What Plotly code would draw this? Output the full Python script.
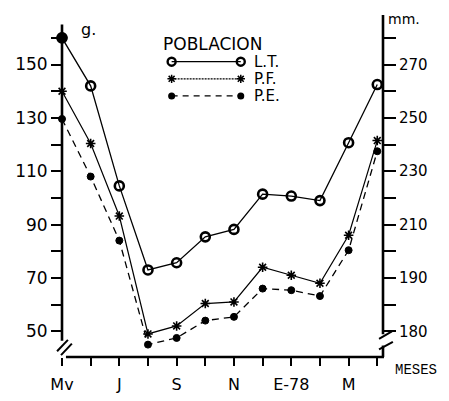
import plotly.graph_objects as go

# ---- data ----
months = ["May", "Jun", "Jul", "Aug", "Sep", "Oct", "Nov", "Dec", "Jan", "Feb", "Mar", "Apr"]
month_labels = ["Mv", "", "J", "", "S", "", "N", "", "E-78", "", "M", ""]
lt = [160, 142, 104.5, 73, 75.7, 85.4, 88.2, 101.4, 100.7, 99, 120.7, 142.5]
pf = [140, 120.4, 93.2, 49, 52, 60.4, 61, 74, 71, 68, 86, 121.5]
pe = [129.6, 108, 84, 45, 47.5, 54, 55.4, 66, 65.4, 63.2, 80.4, 117.5]
left_ticks = [50, 60, 70, 80, 90, 100, 110, 120, 130, 140, 150, 160]
left_labels = ["50", "", "70", "", "90", "", "110", "", "130", "", "150", ""]
right_labels = ["180", "", "190", "", "210", "", "230", "", "250", "", "270", ""]

WIN_W, WIN_H = 449, 401
OFF = 8  # default page body margin
W, H = WIN_W - OFF, WIN_H - OFF
L, R, T, B = 58, 383, 15, 374   # plot box in window pixels
FONT = "DejaVu Sans"

def X(px):
    return (px - L) / (R - L)

def Y(py):
    return (B - py) / (B - T)

x = list(range(len(months)))

fig = go.Figure()

fig.add_trace(go.Scatter(
    x=x, y=lt, mode="lines+markers",
    line=dict(color="black", width=1.3),
    marker=dict(symbol="circle-open", size=9, opacity=1, color="#000000",
                line=dict(color="#000000", width=2.6)),
    cliponaxis=False, showlegend=False))
fig.add_trace(go.Scatter(
    x=x[:1], y=lt[:1], mode="markers",
    marker=dict(symbol="circle", size=11, opacity=1, color="#000000"),
    cliponaxis=False, showlegend=False))
fig.add_trace(go.Scatter(
    x=x, y=pf, mode="lines+markers",
    line=dict(color="black", width=1.2),
    marker=dict(symbol="asterisk-open", size=8, line=dict(color="black", width=1.6)),
    cliponaxis=False, showlegend=False))
fig.add_trace(go.Scatter(
    x=x, y=pe, mode="lines+markers",
    line=dict(color="black", width=1.3, dash="7px,5px"),
    marker=dict(symbol="circle", size=7, color="black", line=dict(color="black", width=1)),
    cliponaxis=False, showlegend=False))

# ---- legend graphic (window-pixel overlay axes) ----
leg_rows = [64, 82, 100]
leg_x = [169, 239]
styles = [
    dict(line=dict(color="black", width=1.3),
         marker=dict(symbol="circle-open", size=8, color="black", line=dict(color="black", width=2.4))),
    dict(line=dict(color="black", width=1.2, dash="2px,1px"),
         marker=dict(symbol="asterisk-open", size=7, line=dict(color="black", width=1.5))),
    dict(line=dict(color="black", width=1.3, dash="6px,5px"),
         marker=dict(symbol="circle", size=7, color="black")),
]
leg_names = ["L.T.", "P.F.", "P.E."]
for row, st, name in zip(leg_rows, styles, leg_names):
    fig.add_trace(go.Scatter(x=leg_x, y=[row, row], mode="lines+markers",
                             xaxis="x3", yaxis="y3", showlegend=False, **st))
    fig.add_annotation(xref="x3", yref="y3", x=250, y=row, text=name, showarrow=False,
                       xanchor="left", yanchor="middle",
                       font=dict(family=FONT, size=15, color="black"))
fig.add_annotation(xref="x3", yref="y3", x=210, y=45.5, text="POBLACION", showarrow=False,
                   xanchor="center", yanchor="middle",
                   font=dict(family=FONT, size=17, color="black"))

# ---- unit texts ----
fig.add_annotation(xref="paper", yref="paper", x=X(75), y=Y(30), text="g.", showarrow=False,
                   xanchor="left", yanchor="middle", font=dict(family=FONT, size=16, color="black"))
fig.add_annotation(xref="paper", yref="paper", x=X(386), y=Y(19), text="mm.", showarrow=False,
                   xanchor="left", yanchor="middle", font=dict(family=FONT, size=14, color="black"))
fig.add_annotation(xref="paper", yref="paper", x=X(440), y=Y(388), text="MESES", showarrow=False,
                   xanchor="right", yanchor="middle",
                   font=dict(family="Liberation Mono", size=14, color="black"))

# ---- axis lines with breaks ----
ax = dict(type="line", xref="paper", yref="paper", line=dict(color="black", width=2.6))
shapes = [
    dict(ax, x0=X(58), x1=X(58), y0=Y(25), y1=Y(357)),          # left axis
    dict(ax, x0=X(62), x1=X(384), y0=Y(374), y1=Y(374)),        # bottom axis
    dict(ax, x0=X(383), x1=X(383), y0=Y(15), y1=Y(350)),        # right axis upper
    dict(ax, x0=X(383), x1=X(383), y0=Y(362), y1=Y(374)),       # right axis stub
    # break marks
    dict(ax, x0=X(53), x1=X(64), y0=Y(368), y1=Y(356), line=dict(color="black", width=2)),
    dict(ax, x0=X(57), x1=X(68), y0=Y(372), y1=Y(360), line=dict(color="black", width=2)),
    dict(ax, x0=X(379), x1=X(392), y0=Y(355), y1=Y(347), line=dict(color="black", width=2)),
    dict(ax, x0=X(379), x1=X(393), y0=Y(366), y1=Y(358), line=dict(color="black", width=2)),
]

ymin = 50 - (B - 347) / 2.8
ymax = ymin + (B - T) / 2.8

fig.update_layout(
    width=W, height=H,
    margin=dict(l=L - OFF, r=WIN_W - R, t=T - OFF, b=WIN_H - B, pad=0),
    paper_bgcolor="white", plot_bgcolor="white",
    shapes=shapes,
    xaxis=dict(range=[0, 11.2], tickvals=x, ticktext=month_labels,
               showgrid=False, zeroline=False, showline=False,
               ticks="outside", ticklen=8, tickwidth=1.5, tickcolor="black",
               ticklabelstandoff=5,
               tickfont=dict(family=FONT, size=16, color="black")),
    yaxis=dict(range=[ymin, ymax], tickvals=left_ticks, ticktext=left_labels,
               showgrid=False, zeroline=False, showline=False,
               ticks="outside", ticklen=10, tickwidth=1.5, tickcolor="black",
               ticklabelstandoff=0,
               tickfont=dict(family=FONT, size=17, color="black")),
    yaxis2=dict(range=[ymin, ymax], overlaying="y", side="right", anchor="x",
                tickvals=left_ticks, ticktext=right_labels,
                showgrid=False, zeroline=False, showline=False,
                ticks="outside", ticklen=12, tickwidth=1.5, tickcolor="black",
                ticklabelstandoff=0,
                tickfont=dict(family=FONT, size=15, color="black")),
    xaxis3=dict(domain=[0, 1], range=[L, R], visible=False, anchor="y3", overlaying="x"),
    yaxis3=dict(domain=[0, 1], range=[B, T], visible=False, anchor="x3", overlaying="y"),
)
# invisible trace to activate yaxis2 ticks
fig.add_trace(go.Scatter(x=[x[-1]], y=[pe[-1]], yaxis="y2", mode="markers",
                         marker=dict(opacity=0), showlegend=False, hoverinfo="skip"))

fig.write_html("out.html")
